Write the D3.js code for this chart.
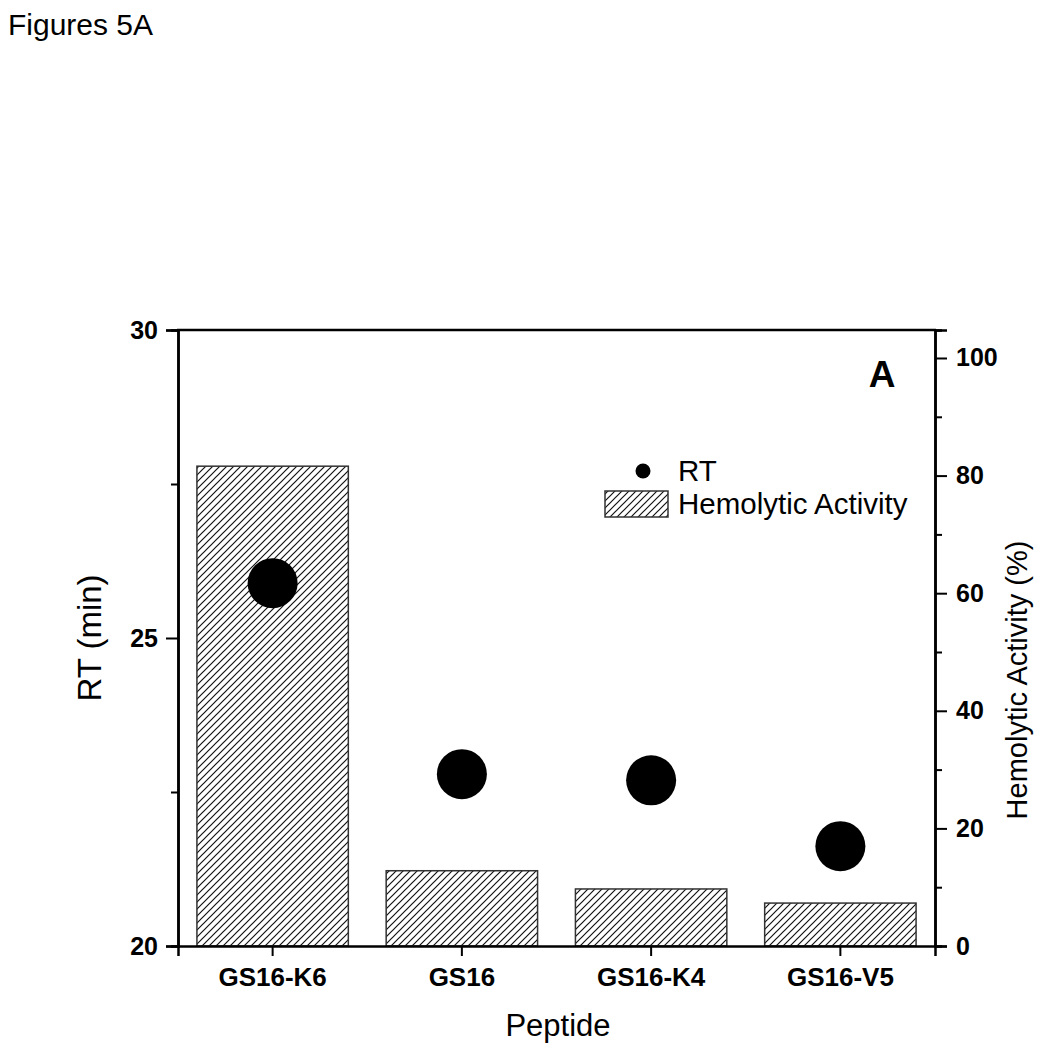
<!DOCTYPE html>
<html><head><meta charset="utf-8">
<script src="https://cdn.jsdelivr.net/npm/d3@7"></script>
<style>body{margin:0;background:#fff}svg{display:block;font-family:"Liberation Sans",Arial,sans-serif}</style>
</head><body><svg id="c" width="1039" height="1050"></svg>
<script>
const categories = ["GS16-K6","GS16","GS16-K4","GS16-V5"];
const rtValues = [25.89, 22.79, 22.69, 21.62];
const hemolyticValues = [81.6, 12.8, 9.7, 7.3];
const leftTicks = [20, 25, 30];
const leftMinorTicks = [22.5, 27.5];
const rightTicks = [0, 20, 40, 60, 80, 100];
const rightMinorTicks = [10, 30, 50, 70, 90];

const svg = d3.select("#c");
const L = 178, R = 935, T = 330, B = 946;
const x = d3.scaleBand().domain(categories).range([L, R]).paddingInner(0.2).paddingOuter(0.1);
const yL = d3.scaleLinear().domain([20, 30]).range([B, T]);
const yR = d3.scaleLinear().domain([0, 104.76]).range([B, T]);

const defs = svg.append("defs");
const pat = defs.append("pattern").attr("id","hatch").attr("patternUnits","userSpaceOnUse")
  .attr("width",7).attr("height",7);
pat.append("path").attr("d","M-1,1 l2,-2 M0,7 l7,-7 M6,8 l2,-2").attr("stroke","#111").attr("stroke-width",1.2);

svg.append("text").attr("x",8).attr("y",35).attr("font-size",30).text("Figures 5A");

// bars
svg.selectAll("rect.bar").data(categories).join("rect").attr("class","bar")
  .attr("x", d => x(d)).attr("width", x.bandwidth())
  .attr("y", (d,i) => yR(hemolyticValues[i])).attr("height", (d,i) => B - yR(hemolyticValues[i]))
  .attr("fill","url(#hatch)").attr("stroke","#333").attr("stroke-width",1.5);

// points
svg.selectAll("circle.pt").data(categories).join("circle").attr("class","pt")
  .attr("cx", d => x(d) + x.bandwidth()/2).attr("cy", (d,i) => yL(rtValues[i]))
  .attr("r", 25).attr("fill","#000");

// axes
svg.append("g").attr("class","ax").attr("transform",`translate(${L},0)`)
  .call(d3.axisLeft(yL).tickValues(leftTicks).tickSize(12).tickPadding(8).tickFormat(d3.format("d")));
svg.append("g").attr("transform",`translate(${L},0)`)
  .call(d3.axisLeft(yL).tickValues(leftMinorTicks).tickSize(7).tickFormat(""));
svg.append("g").attr("class","ax").attr("transform",`translate(${R},0)`)
  .call(d3.axisRight(yR).tickValues(rightTicks).tickSize(12).tickPadding(9).tickFormat(d3.format("d")));
svg.append("g").attr("transform",`translate(${R},0)`)
  .call(d3.axisRight(yR).tickValues(rightMinorTicks).tickSize(7).tickFormat(""));
svg.append("g").attr("class","axb").attr("transform",`translate(0,${B})`)
  .call(d3.axisBottom(x).tickSize(10).tickPadding(12));
svg.selectAll(".domain").attr("stroke","#000").attr("stroke-width",2.5);
svg.selectAll(".tick line").attr("stroke","#000").attr("stroke-width",2);
svg.selectAll(".ax .tick text").attr("font-size",25).attr("font-weight","bold")
  .attr("font-family","'Liberation Sans',Arial,sans-serif").attr("fill","#000");
svg.selectAll(".axb .tick text").attr("font-size",26).attr("font-weight","bold")
  .attr("font-family","'Liberation Sans',Arial,sans-serif").attr("fill","#000");
svg.append("line").attr("x1",L-1).attr("x2",R+1).attr("y1",T).attr("y2",T).attr("stroke","#000").attr("stroke-width",2.5);

// titles
svg.append("text").attr("transform",`translate(101,638) rotate(-90)`).attr("text-anchor","middle")
  .attr("font-size",33).text("RT (min)");
svg.append("text").attr("transform",`translate(1027,680) rotate(-90)`).attr("text-anchor","middle")
  .attr("font-size",29).text("Hemolytic Activity (%)");
svg.append("text").attr("x",558).attr("y",1036).attr("text-anchor","middle").attr("font-size",31).text("Peptide");
svg.append("text").attr("x",882).attr("y",387).attr("text-anchor","middle").attr("font-size",37).attr("font-weight","bold").text("A");

// legend
svg.append("circle").attr("cx",643).attr("cy",471).attr("r",7.5).attr("fill","#000");
svg.append("text").attr("x",678).attr("y",481).attr("font-size",29.5).text("RT");
svg.append("rect").attr("x",605).attr("y",491).attr("width",63).attr("height",26)
  .attr("fill","url(#hatch)").attr("stroke","#333").attr("stroke-width",1.5);
svg.append("text").attr("x",678).attr("y",514).attr("font-size",29.5).text("Hemolytic Activity");
</script></body></html>
